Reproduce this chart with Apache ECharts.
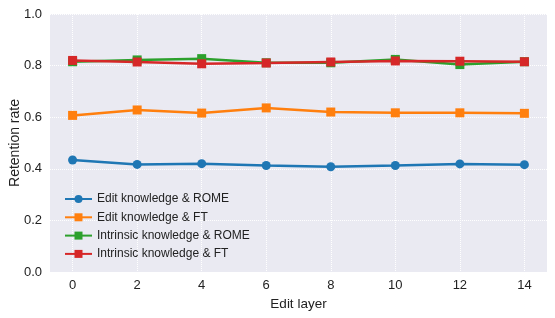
<!DOCTYPE html>
<html><head><meta charset="utf-8">
<script src="https://cdn.jsdelivr.net/npm/echarts@6/dist/echarts.min.js"></script>
<style>html,body{margin:0;padding:0;background:#fff}#c{width:555px;height:318px}</style>
</head><body><div id="c"></div>
<script>
var layers = [0, 2, 4, 6, 8, 10, 12, 14];
var yTicks = [0, 0.2, 0.4, 0.6, 0.8, 1.0];
var editRome = [0.434, 0.417, 0.420, 0.413, 0.408, 0.413, 0.419, 0.416];
var editFT = [0.607, 0.628, 0.616, 0.636, 0.620, 0.617, 0.617, 0.615];
var intrRome = [0.815, 0.822, 0.827, 0.811, 0.811, 0.824, 0.804, 0.815];
var intrFT = [0.820, 0.814, 0.807, 0.810, 0.814, 0.818, 0.817, 0.815];
var names = ['Edit knowledge & ROME', 'Edit knowledge & FT', 'Intrinsic knowledge & ROME', 'Intrinsic knowledge & FT'];
var colors = ['#1f77b4', '#ff7f0e', '#2ca02c', '#d62728'];
var symbols = ['circle', 'rect', 'rect', 'rect'];
var all = [editRome, editFT, intrRome, intrFT];

var font = 'Liberation Sans, Arial, sans-serif';
var series = all.map(function (vals, i) {
  return {
    name: names[i], type: 'line',
    data: layers.map(function (x, j) { return [x, vals[j]]; }),
    symbol: symbols[i], symbolSize: 9,
    lineStyle: { width: 2.5, color: colors[i] },
    itemStyle: { color: colors[i] },
    animation: false
  };
});
var chart = echarts.init(document.getElementById('c'), null, { renderer: 'canvas' });
chart.setOption({
  animation: false,
  color: colors,
  grid: { left: 50, right: 8, top: 14, bottom: 46, show: true, backgroundColor: '#EAEAF2', borderWidth: 0,
    containLabel: false, outerBoundsMode: 'none' },
  legend: {
    orient: 'vertical', left: 59, top: 188, itemGap: 6.3, itemWidth: 27, itemHeight: 10,
    textStyle: { fontFamily: font, fontSize: 12, color: '#222' },
    data: names
  },
  xAxis: {
    type: 'value', min: -0.7, max: 14.7,
    name: 'Edit layer', nameLocation: 'middle', nameGap: 25, nameMoveOverlap: false,
    nameTextStyle: { fontFamily: font, fontSize: 13.5, color: '#222' },
    axisLine: { show: false }, axisTick: { show: false, customValues: layers },
    axisLabel: { customValues: layers, fontFamily: font, fontSize: 13, color: '#222', margin: 7 },
    splitLine: { show: true, lineStyle: { color: '#fff', type: 'dotted', width: 1 } }
  },
  yAxis: {
    type: 'value', min: 0, max: 1, interval: 0.2,
    name: 'Retention rate', nameLocation: 'middle', nameGap: 28, nameMoveOverlap: false,
    nameTextStyle: { fontFamily: font, fontSize: 14, color: '#222' },
    axisLine: { show: false }, axisTick: { show: false },
    axisLabel: { fontFamily: font, fontSize: 13, color: '#222', margin: 8,
      formatter: function (v) { return v.toFixed(1); } },
    splitLine: { show: true, lineStyle: { color: '#fff', type: 'dotted', width: 1 } }
  },
  series: series
});
</script></body></html>
